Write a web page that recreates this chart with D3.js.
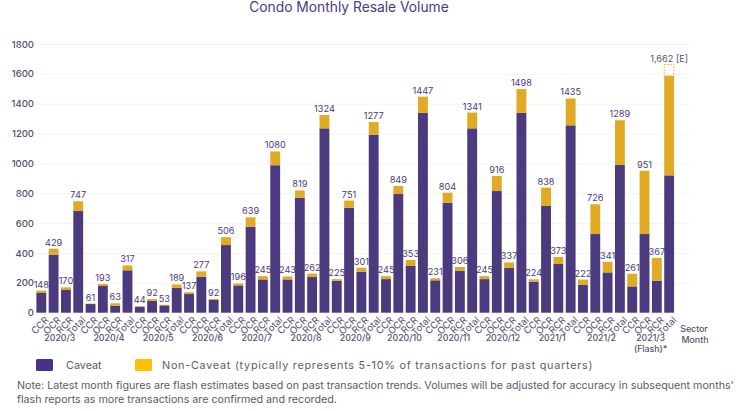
<!DOCTYPE html>
<html lang="en">
<head>
<meta charset="utf-8">
<script src="https://d3js.org/d3.v7.min.js"></script>
<style>
    html, body { margin: 0; padding: 0; background: #fff; }
    svg { display: block; }
    text { font-family: Inter, "Open Sans", sans-serif; }
</style>
</head>
<body>
<div id="chart"></div>
<script>
    var months = ["2020/3", "2020/4", "2020/5", "2020/6", "2020/7", "2020/8", "2020/9",
        "2020/10", "2020/11", "2020/12", "2021/1", "2021/2", "2021/3"];
    var sectors = ["CCR", "OCR", "RCR", "Total"];
    var yTicks = [0, 200, 400, 600, 800, 1000, 1200, 1400, 1600, 1800];

    // one row per month: CCR, OCR, RCR, Total
    var barTotals = [
        [148, 429, 170, 747], [61, 193, 63, 317], [44, 92, 53, 189], [137, 277, 92, 506],
        [196, 639, 245, 1080], [243, 819, 262, 1324], [225, 751, 301, 1277], [245, 849, 353, 1447],
        [231, 804, 306, 1341], [245, 916, 337, 1498], [224, 838, 373, 1435], [222, 726, 341, 1289],
        [261, 951, 367, 1586]
    ];
    var caveat = [
        [132, 389, 152, 681], [58, 179, 47, 284], [40, 80, 49, 167], [125, 241, 85, 453],
        [183, 576, 223, 988], [223, 770, 239, 1235], [214, 703, 275, 1193], [225, 795, 313, 1340],
        [217, 737, 281, 1235], [225, 815, 301, 1340], [208, 715, 326, 1255], [188, 527, 270, 990],
        [176, 527, 214, 920]
    ];
    var flashEstimate = 1662;

    var purple = "#4b3a7d", gold = "#e0aa25", grey = "#55506f";

    var rows = [];
    months.forEach(function(m, i) {
        sectors.forEach(function(s, j) {
            rows.push({ key: m + "|" + s, month: m, sector: s, total: barTotals[i][j], caveat: caveat[i][j] });
        });
    });

    var svg = d3.select("#chart").append("svg").attr("width", 750).attr("height", 411);

    var x = d3.scaleBand().domain(rows.map(d => d.key))
        .range([35.15, 675.3]).paddingInner(0.2).paddingOuter(0.1);
    var y = d3.scaleLinear().domain([0, 1800]).range([312.7, 44]);

    svg.append("text").attr("x", 349).attr("y", 12).attr("text-anchor", "middle")
        .attr("font-size", 13.8).attr("fill", purple).text("Condo Monthly Resale Volume");

    // y axis with faint grid
    var yAxis = svg.append("g").attr("transform", "translate(35,0)")
        .call(d3.axisLeft(y).tickValues(yTicks).tickFormat(d3.format("d")).tickSize(0).tickPadding(1));
    yAxis.select(".domain").remove();
    yAxis.selectAll("text").attr("font-size", 9.5).attr("font-weight", 500).attr("fill", grey)
        .style("font-family", "Inter");
    yAxis.selectAll(".tick").filter(d => d > 0).append("line")
        .attr("x1", 0).attr("x2", 655).attr("stroke", "#f4f4f4");

    // bars
    svg.append("g").selectAll("rect").data(rows).enter().append("rect")
        .attr("x", d => x(d.key)).attr("width", x.bandwidth())
        .attr("y", d => y(d.caveat)).attr("height", d => y(0) - y(d.caveat))
        .attr("fill", purple);
    svg.append("g").selectAll("rect").data(rows).enter().append("rect")
        .attr("x", d => x(d.key)).attr("width", x.bandwidth())
        .attr("y", d => y(d.total)).attr("height", d => y(d.caveat) - y(d.total))
        .attr("fill", gold);

    // estimated part of the flash month
    var lastRow = rows[rows.length - 1];
    svg.append("rect").attr("x", x(lastRow.key)).attr("width", x.bandwidth())
        .attr("y", y(flashEstimate)).attr("height", y(lastRow.total) - y(flashEstimate))
        .attr("fill", "none").attr("stroke", gold).attr("stroke-dasharray", "1.5 1.5");

    // value labels
    svg.append("g").selectAll("text").data(rows).enter().append("text")
        .attr("x", d => x(d.key) + x.bandwidth() / 2)
        .attr("y", d => y(d === lastRow ? flashEstimate : d.total) - 3)
        .attr("text-anchor", "middle").attr("font-size", 9.2).attr("fill", d => d === lastRow ? grey : purple)
        .text(d => d === lastRow ? "1,662 [E]" : d.total);

    // sector labels
    var xAxis = svg.append("g").attr("transform", "translate(0,312.7)")
        .call(d3.axisBottom(x).tickSize(0).tickFormat(k => k.split("|")[1]));
    xAxis.select(".domain").remove();
    xAxis.selectAll("text").attr("font-size", 9.5).attr("fill", grey)
        .attr("text-anchor", "end").attr("x", 0).attr("y", 0).attr("dx", 0).attr("dy", 0)
        .attr("transform", "translate(8,8) rotate(-45)");

    // month labels
    var monthX = m => (x(m + "|CCR") + x(m + "|Total") + x.bandwidth()) / 2;
    svg.append("g").selectAll("text").data(months).enter().append("text")
        .attr("x", monthX).attr("y", 341).attr("text-anchor", "middle")
        .attr("font-size", 8.8).attr("font-weight", 500).attr("fill", grey).text(d => d);
    svg.append("text").attr("x", monthX("2021/3")).attr("y", 351.5).attr("text-anchor", "middle")
        .attr("font-size", 8.8).attr("font-weight", 500).attr("fill", grey).text("(Flash)*");
    svg.append("text").attr("x", 694).attr("y", 332).attr("text-anchor", "middle")
        .attr("font-size", 8.8).attr("font-weight", 500).attr("fill", grey).text("Sector");
    svg.append("text").attr("x", 695).attr("y", 342.5).attr("text-anchor", "middle")
        .attr("font-size", 8.8).attr("font-weight", 500).attr("fill", grey).text("Month");

    // legend
    var legendItems = [
        { x: 36, color: "#4a3088", label: "Caveat", tx: 66, spacing: 0 },
        { x: 135, color: "#ffc000", label: "Non-Caveat (typically represents 5-10% of transactions for past quarters)", tx: 162, spacing: 0.75 }
    ];
    var legend = svg.append("g").selectAll("g").data(legendItems).enter().append("g");
    legend.append("rect").attr("x", d => d.x).attr("y", 359).attr("width", 17).attr("height", 12)
        .attr("rx", 1.5).attr("fill", d => d.color);
    legend.append("text").attr("x", d => d.tx).attr("y", 369).attr("font-size", 10.8)
        .attr("letter-spacing", d => d.spacing)
        .attr("fill", "#5c5c66").text(d => d.label);

    // footnote
    var noteLines = [
        "Note: Latest month figures are flash estimates based on past transaction trends. Volumes will be adjusted for accuracy in subsequent months'",
        "flash reports as more transactions are confirmed and recorded."
    ];
    svg.append("g").selectAll("text").data(noteLines).enter().append("text")
        .attr("x", 17).attr("y", (d, i) => 389 + i * 13.5)
        .attr("font-size", 10.7).attr("fill", "#5c5c66").text(d => d);
</script>
</body>
</html>
